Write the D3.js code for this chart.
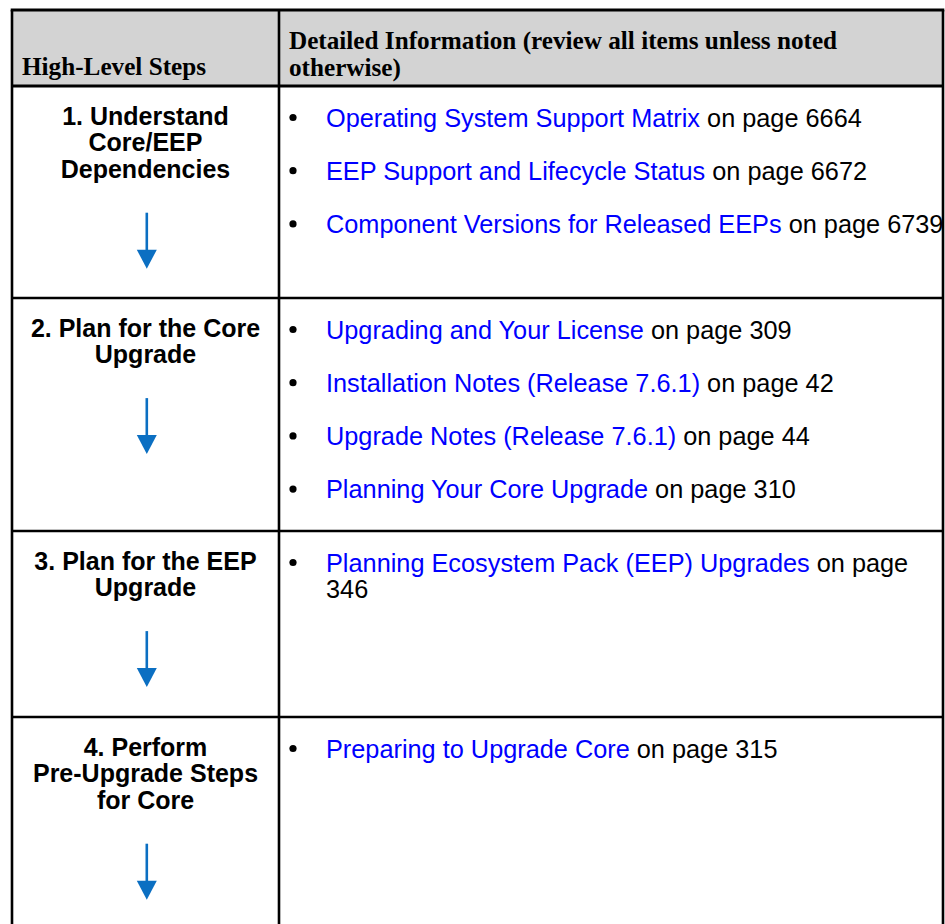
<!DOCTYPE html>
<html><head><meta charset="utf-8">
<script src="https://cdn.jsdelivr.net/npm/d3@7"></script>
<style>html,body{margin:0;padding:0;background:#fff;overflow:hidden}</style>
</head><body><svg id="c" width="945" height="924"></svg>
<script>
// ---- data ----
const headers = ["High-Level Steps", "Detailed Information (review all items unless noted otherwise)"];
const steps = [
  ["1. Understand", "Core/EEP", "Dependencies"],
  ["2. Plan for the Core", "Upgrade"],
  ["3. Plan for the EEP", "Upgrade"],
  ["4. Perform", "Pre-Upgrade Steps", "for Core"]
];
const links = [
  ["Operating System Support Matrix", "EEP Support and Lifecycle Status", "Component Versions for Released EEPs"],
  ["Upgrading and Your License", "Installation Notes (Release 7.6.1)", "Upgrade Notes (Release 7.6.1)", "Planning Your Core Upgrade"],
  ["Planning Ecosystem Pack (EEP) Upgrades"],
  ["Preparing to Upgrade Core"]
];
const pages = [
  ["6664", "6672", "6739"],
  ["309", "42", "44", "310"],
  ["346"],
  ["315"]
];

// ---- layout ----
const tableLeft = 12, colX = 279, tableRight = 943, tableTop = 10, headerBottom = 86;
const rowBounds = [86, 298, 531, 717, 940];
const fs = 25, fsBody = 25.3, fsHead = 25.2, lh = 26.6, itemGap = 53.2;
const sans = "'Liberation Sans', Arial, sans-serif";
const serif = "'Liberation Serif', 'Times New Roman', serif";
const blue = "#0000ff", arrowBlue = "#0b6fc2";
const wrapLimit = 946;

const svg = d3.select("#c");

// header background
svg.append("rect").attr("x", tableLeft).attr("y", tableTop)
  .attr("width", tableRight - tableLeft).attr("height", headerBottom - tableTop)
  .attr("fill", "#d3d3d3");

// header texts
svg.append("text").attr("x", tableLeft + 10).attr("y", 75)
  .attr("font-family", serif).attr("font-weight", "bold").attr("font-size", fsHead)
  .text(headers[0]);

const h2 = svg.append("text").attr("x", colX + 10).attr("y", 49)
  .attr("font-family", serif).attr("font-weight", "bold").attr("font-size", fsHead);

function wrapWords(textSel, words, x, firstY, limit, styler) {
  let line = 0;
  let tsp = textSel.append("tspan").attr("x", x).attr("y", firstY);
  let cur = "";
  words.forEach(w => {
    const trial = cur ? cur + " " + w.t : w.t;
    const probe = textSel.append("tspan").attr("x", x).attr("y", -100).text(trial);
    const width = probe.node().getComputedTextLength();
    probe.remove();
    if (cur && x + width > limit) {
      line++;
      tsp = textSel.append("tspan").attr("x", x).attr("y", firstY + line * lh);
      cur = w.t;
      styler(tsp.append("tspan").text(w.t), w);
    } else {
      styler(tsp.append("tspan").text((cur ? " " : "") + w.t), w);
      cur = trial;
    }
  });
  return line + 1;
}

wrapWords(h2, headers[1].split(" ").map(t => ({t})), colX + 10, 49, wrapLimit, () => {});

// rows
steps.forEach((lines, i) => {
  const top = rowBounds[i];
  const g = svg.append("g");
  const t = g.append("text").attr("text-anchor", "middle")
    .attr("font-family", sans).attr("font-weight", "bold").attr("font-size", fs);
  lines.forEach((l, j) => {
    t.append("tspan").attr("x", (tableLeft + colX) / 2).attr("y", top + 38.5 + j * lh).text(l);
  });
  // arrow
  const lastBase = top + 38.5 + (lines.length - 1) * lh;
  const ax = 146.8, a0 = lastBase + 35, a1 = a0 + 56;
  g.append("line").attr("x1", ax).attr("x2", ax).attr("y1", a0).attr("y2", a1 - 16)
    .attr("stroke", arrowBlue).attr("stroke-width", 2.6);
  g.append("path")
    .attr("d", d3.line()([[ax - 10, a1 - 19], [ax + 10, a1 - 19], [ax, a1]]) + "Z")
    .attr("fill", arrowBlue);

  // items
  let base = top + 40.5;
  links[i].forEach((lk, k) => {
    g.append("circle").attr("cx", 293).attr("cy", base - 9).attr("r", 3.6).attr("fill", "#000");
    const txt = g.append("text").attr("font-family", sans).attr("font-size", fsBody);
    const words = lk.split(" ").map(t => ({t, link: true}))
      .concat(("on page " + pages[i][k]).split(" ").map(t => ({t, link: false})));
    const n = wrapWords(txt, words, 326, base, wrapLimit, (sel, w) => sel.attr("fill", w.link ? blue : "#000"));
    base += itemGap + (n - 1) * lh;
  });
});

// borders
const bw = 2.6;
const border = svg.append("g").attr("stroke", "#000").attr("stroke-width", bw).attr("fill", "none");
border.append("line").attr("x1", tableLeft - bw/2).attr("x2", tableRight + bw/2).attr("y1", tableTop).attr("y2", tableTop).attr("stroke-width", 3);
rowBounds.slice(0, -1).forEach(b => {
  border.append("line").attr("x1", tableLeft).attr("x2", tableRight).attr("y1", b).attr("y2", b)
    .attr("stroke-width", b === headerBottom ? 3 : bw);
});
[tableLeft, colX, tableRight].forEach(x => {
  border.append("line").attr("x1", x).attr("x2", x).attr("y1", tableTop).attr("y2", 930);
});
</script>
</body></html>
